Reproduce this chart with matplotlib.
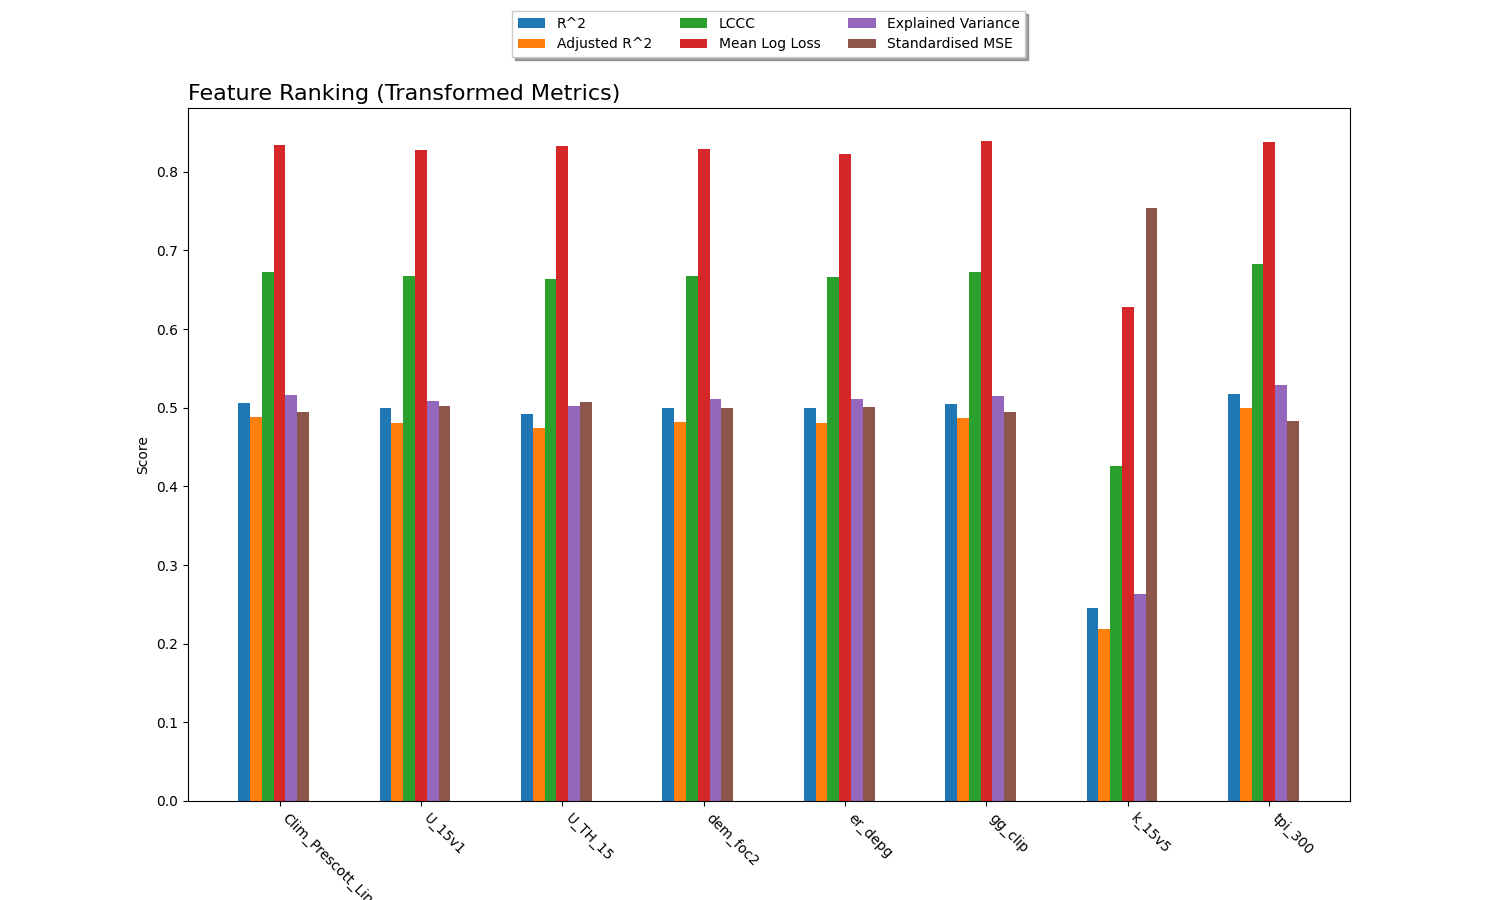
import numpy as np
import matplotlib
matplotlib.use("Agg")
import matplotlib.pyplot as plt

features = ["Clim_Prescott_LindesayWA", "U_15v1", "U_TH_15", "dem_foc2",
            "er_depg", "gg_clip", "k_15v5", "tpi_300"]
metrics = ["R^2", "Adjusted R^2", "LCCC", "Mean Log Loss",
           "Explained Variance", "Standardised MSE"]

r2 = [0.506, 0.499, 0.492, 0.500, 0.499, 0.505, 0.245, 0.518]
adj_r2 = [0.488, 0.481, 0.474, 0.482, 0.481, 0.487, 0.219, 0.500]
lccc = [0.673, 0.668, 0.663, 0.668, 0.666, 0.673, 0.426, 0.683]
mean_log_loss = [0.834, 0.828, 0.833, 0.829, 0.823, 0.839, 0.628, 0.838]
expl_var = [0.516, 0.509, 0.502, 0.511, 0.511, 0.515, 0.263, 0.529]
std_mse = [0.495, 0.502, 0.507, 0.500, 0.501, 0.495, 0.754, 0.483]

series = [r2, adj_r2, lccc, mean_log_loss, expl_var, std_mse]

fig, ax = plt.subplots(figsize=(15, 9), dpi=100)
x = np.arange(len(features))
w = 0.5 / len(series)
for i, (vals, name) in enumerate(zip(series, metrics)):
    ax.bar(x - 0.25 + i * w, vals, width=w, label=name, color="C%d" % i)

ax.set_xlim(-0.651, 7.571)
ax.set_xticks(x)
ax.set_xticklabels(features, rotation=-45, ha="left")
ax.set_ylabel("Score")
ax.set_title("Feature Ranking (Transformed Metrics)", loc="left", fontsize=16)
ax.legend(loc="upper center", bbox_to_anchor=(0.5, 1.15), ncol=3,
          fancybox=False, shadow=True)

fig.savefig("out.png")
